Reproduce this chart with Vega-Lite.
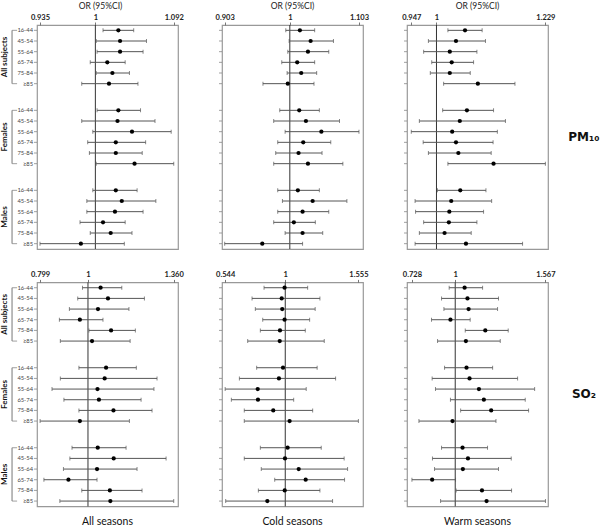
{
"$schema":"https://vega.github.io/schema/vega-lite/v6.json",
"padding":0,
"background":"white",
"bounds":"flush",
"columns":3,
"spacing":{"row":33.4,"column":44},
"config":{"view":{"stroke":null},"font":"Lato","axis":{"grid":false,"domain":false,"tickColor":"#777","tickSize":3,"labelFont":"Lato"},"title":{"font":"Lato","fontWeight":"normal","color":"#222"},"text":{"font":"Lato"}},
"datasets":{"or":[
{"pollutant":"PM10","season":"All seasons","group":"All subjects","age":"16-44","OR":1.027,"lower":1.009,"upper":1.045},
{"pollutant":"PM10","season":"All seasons","group":"All subjects","age":"45-54","OR":1.029,"lower":1.001,"upper":1.060},
{"pollutant":"PM10","season":"All seasons","group":"All subjects","age":"55-64","OR":1.029,"lower":1.002,"upper":1.056},
{"pollutant":"PM10","season":"All seasons","group":"All subjects","age":"65-74","OR":1.014,"lower":0.994,"upper":1.035},
{"pollutant":"PM10","season":"All seasons","group":"All subjects","age":"75-84","OR":1.020,"lower":1.001,"upper":1.040},
{"pollutant":"PM10","season":"All seasons","group":"All subjects","age":"≥85","OR":1.016,"lower":0.984,"upper":1.050},
{"pollutant":"PM10","season":"All seasons","group":"Females","age":"16-44","OR":1.027,"lower":1.002,"upper":1.053},
{"pollutant":"PM10","season":"All seasons","group":"Females","age":"45-54","OR":1.026,"lower":0.984,"upper":1.070},
{"pollutant":"PM10","season":"All seasons","group":"Females","age":"55-64","OR":1.043,"lower":0.997,"upper":1.089},
{"pollutant":"PM10","season":"All seasons","group":"Females","age":"65-74","OR":1.024,"lower":0.991,"upper":1.059},
{"pollutant":"PM10","season":"All seasons","group":"Females","age":"75-84","OR":1.024,"lower":0.993,"upper":1.055},
{"pollutant":"PM10","season":"All seasons","group":"Females","age":"≥85","OR":1.046,"lower":1.001,"upper":1.092},
{"pollutant":"PM10","season":"All seasons","group":"Males","age":"16-44","OR":1.024,"lower":0.997,"upper":1.049},
{"pollutant":"PM10","season":"All seasons","group":"Males","age":"45-54","OR":1.031,"lower":0.990,"upper":1.071},
{"pollutant":"PM10","season":"All seasons","group":"Males","age":"55-64","OR":1.023,"lower":0.990,"upper":1.056},
{"pollutant":"PM10","season":"All seasons","group":"Males","age":"65-74","OR":1.009,"lower":0.982,"upper":1.035},
{"pollutant":"PM10","season":"All seasons","group":"Males","age":"75-84","OR":1.018,"lower":0.994,"upper":1.043},
{"pollutant":"PM10","season":"All seasons","group":"Males","age":"≥85","OR":0.983,"lower":0.935,"upper":1.034},
{"pollutant":"PM10","season":"Cold seasons","group":"All subjects","age":"16-44","OR":1.015,"lower":0.994,"upper":1.037},
{"pollutant":"PM10","season":"Cold seasons","group":"All subjects","age":"45-54","OR":1.031,"lower":0.999,"upper":1.065},
{"pollutant":"PM10","season":"Cold seasons","group":"All subjects","age":"55-64","OR":1.027,"lower":0.997,"upper":1.058},
{"pollutant":"PM10","season":"Cold seasons","group":"All subjects","age":"65-74","OR":1.011,"lower":0.988,"upper":1.037},
{"pollutant":"PM10","season":"Cold seasons","group":"All subjects","age":"75-84","OR":1.017,"lower":0.996,"upper":1.040},
{"pollutant":"PM10","season":"Cold seasons","group":"All subjects","age":"≥85","OR":0.997,"lower":0.960,"upper":1.036},
{"pollutant":"PM10","season":"Cold seasons","group":"Females","age":"16-44","OR":1.014,"lower":0.985,"upper":1.044},
{"pollutant":"PM10","season":"Cold seasons","group":"Females","age":"45-54","OR":1.024,"lower":0.976,"upper":1.074},
{"pollutant":"PM10","season":"Cold seasons","group":"Females","age":"55-64","OR":1.047,"lower":0.993,"upper":1.103},
{"pollutant":"PM10","season":"Cold seasons","group":"Females","age":"65-74","OR":1.020,"lower":0.982,"upper":1.061},
{"pollutant":"PM10","season":"Cold seasons","group":"Females","age":"75-84","OR":1.013,"lower":0.979,"upper":1.048},
{"pollutant":"PM10","season":"Cold seasons","group":"Females","age":"≥85","OR":1.027,"lower":0.976,"upper":1.079},
{"pollutant":"PM10","season":"Cold seasons","group":"Males","age":"16-44","OR":1.012,"lower":0.982,"upper":1.044},
{"pollutant":"PM10","season":"Cold seasons","group":"Males","age":"45-54","OR":1.034,"lower":0.989,"upper":1.085},
{"pollutant":"PM10","season":"Cold seasons","group":"Males","age":"55-64","OR":1.019,"lower":0.982,"upper":1.058},
{"pollutant":"PM10","season":"Cold seasons","group":"Males","age":"65-74","OR":1.006,"lower":0.976,"upper":1.038},
{"pollutant":"PM10","season":"Cold seasons","group":"Males","age":"75-84","OR":1.019,"lower":0.993,"upper":1.049},
{"pollutant":"PM10","season":"Cold seasons","group":"Males","age":"≥85","OR":0.959,"lower":0.903,"upper":1.019},
{"pollutant":"PM10","season":"Warm seasons","group":"All subjects","age":"16-44","OR":1.060,"lower":1.024,"upper":1.096},
{"pollutant":"PM10","season":"Warm seasons","group":"All subjects","age":"45-54","OR":1.041,"lower":0.983,"upper":1.103},
{"pollutant":"PM10","season":"Warm seasons","group":"All subjects","age":"55-64","OR":1.028,"lower":0.973,"upper":1.085},
{"pollutant":"PM10","season":"Warm seasons","group":"All subjects","age":"65-74","OR":1.032,"lower":0.990,"upper":1.078},
{"pollutant":"PM10","season":"Warm seasons","group":"All subjects","age":"75-84","OR":1.028,"lower":0.987,"upper":1.071},
{"pollutant":"PM10","season":"Warm seasons","group":"All subjects","age":"≥85","OR":1.087,"lower":1.015,"upper":1.165},
{"pollutant":"PM10","season":"Warm seasons","group":"Females","age":"16-44","OR":1.064,"lower":1.013,"upper":1.120},
{"pollutant":"PM10","season":"Warm seasons","group":"Females","age":"45-54","OR":1.049,"lower":0.964,"upper":1.145},
{"pollutant":"PM10","season":"Warm seasons","group":"Females","age":"55-64","OR":1.033,"lower":0.947,"upper":1.128},
{"pollutant":"PM10","season":"Warm seasons","group":"Females","age":"65-74","OR":1.041,"lower":0.972,"upper":1.119},
{"pollutant":"PM10","season":"Warm seasons","group":"Females","age":"75-84","OR":1.046,"lower":0.983,"upper":1.115},
{"pollutant":"PM10","season":"Warm seasons","group":"Females","age":"≥85","OR":1.120,"lower":1.024,"upper":1.229},
{"pollutant":"PM10","season":"Warm seasons","group":"Males","age":"16-44","OR":1.050,"lower":1.002,"upper":1.104},
{"pollutant":"PM10","season":"Warm seasons","group":"Males","age":"45-54","OR":1.031,"lower":0.955,"upper":1.116},
{"pollutant":"PM10","season":"Warm seasons","group":"Males","age":"55-64","OR":1.027,"lower":0.956,"upper":1.099},
{"pollutant":"PM10","season":"Warm seasons","group":"Males","age":"65-74","OR":1.026,"lower":0.973,"upper":1.085},
{"pollutant":"PM10","season":"Warm seasons","group":"Males","age":"75-84","OR":1.017,"lower":0.964,"upper":1.073},
{"pollutant":"PM10","season":"Warm seasons","group":"Males","age":"≥85","OR":1.062,"lower":0.955,"upper":1.181},
{"pollutant":"SO2","season":"All seasons","group":"All subjects","age":"16-44","OR":1.053,"lower":0.977,"upper":1.142},
{"pollutant":"SO2","season":"All seasons","group":"All subjects","age":"45-54","OR":1.084,"lower":0.957,"upper":1.237},
{"pollutant":"SO2","season":"All seasons","group":"All subjects","age":"55-64","OR":1.042,"lower":0.922,"upper":1.172},
{"pollutant":"SO2","season":"All seasons","group":"All subjects","age":"65-74","OR":0.966,"lower":0.880,"upper":1.063},
{"pollutant":"SO2","season":"All seasons","group":"All subjects","age":"75-84","OR":1.097,"lower":1.004,"upper":1.199},
{"pollutant":"SO2","season":"All seasons","group":"All subjects","age":"≥85","OR":1.017,"lower":0.884,"upper":1.177},
{"pollutant":"SO2","season":"All seasons","group":"Females","age":"16-44","OR":1.076,"lower":0.962,"upper":1.203},
{"pollutant":"SO2","season":"All seasons","group":"Females","age":"45-54","OR":1.070,"lower":0.884,"upper":1.290},
{"pollutant":"SO2","season":"All seasons","group":"Females","age":"55-64","OR":1.040,"lower":0.849,"upper":1.277},
{"pollutant":"SO2","season":"All seasons","group":"Females","age":"65-74","OR":1.046,"lower":0.899,"upper":1.223},
{"pollutant":"SO2","season":"All seasons","group":"Females","age":"75-84","OR":1.107,"lower":0.962,"upper":1.269},
{"pollutant":"SO2","season":"All seasons","group":"Females","age":"≥85","OR":0.966,"lower":0.799,"upper":1.174},
{"pollutant":"SO2","season":"All seasons","group":"Males","age":"16-44","OR":1.041,"lower":0.933,"upper":1.160},
{"pollutant":"SO2","season":"All seasons","group":"Males","age":"45-54","OR":1.108,"lower":0.924,"upper":1.328},
{"pollutant":"SO2","season":"All seasons","group":"Males","age":"55-64","OR":1.038,"lower":0.897,"upper":1.206},
{"pollutant":"SO2","season":"All seasons","group":"Males","age":"65-74","OR":0.918,"lower":0.815,"upper":1.038},
{"pollutant":"SO2","season":"All seasons","group":"Males","age":"75-84","OR":1.092,"lower":0.974,"upper":1.227},
{"pollutant":"SO2","season":"All seasons","group":"Males","age":"≥85","OR":1.094,"lower":0.882,"upper":1.360},
{"pollutant":"SO2","season":"Cold seasons","group":"All subjects","age":"16-44","OR":0.995,"lower":0.839,"upper":1.170},
{"pollutant":"SO2","season":"Cold seasons","group":"All subjects","age":"45-54","OR":0.973,"lower":0.748,"upper":1.263},
{"pollutant":"SO2","season":"Cold seasons","group":"All subjects","age":"55-64","OR":0.977,"lower":0.773,"upper":1.227},
{"pollutant":"SO2","season":"Cold seasons","group":"All subjects","age":"65-74","OR":0.995,"lower":0.829,"upper":1.185},
{"pollutant":"SO2","season":"Cold seasons","group":"All subjects","age":"75-84","OR":0.960,"lower":0.811,"upper":1.152},
{"pollutant":"SO2","season":"Cold seasons","group":"All subjects","age":"≥85","OR":0.958,"lower":0.715,"upper":1.296},
{"pollutant":"SO2","season":"Cold seasons","group":"Females","age":"16-44","OR":0.983,"lower":0.783,"upper":1.242},
{"pollutant":"SO2","season":"Cold seasons","group":"Females","age":"45-54","OR":0.952,"lower":0.652,"upper":1.382},
{"pollutant":"SO2","season":"Cold seasons","group":"Females","age":"55-64","OR":0.791,"lower":0.544,"upper":1.159},
{"pollutant":"SO2","season":"Cold seasons","group":"Females","age":"65-74","OR":0.793,"lower":0.591,"upper":1.064},
{"pollutant":"SO2","season":"Cold seasons","group":"Females","age":"75-84","OR":0.909,"lower":0.689,"upper":1.208},
{"pollutant":"SO2","season":"Cold seasons","group":"Females","age":"≥85","OR":1.033,"lower":0.689,"upper":1.555},
{"pollutant":"SO2","season":"Cold seasons","group":"Males","age":"16-44","OR":1.018,"lower":0.811,"upper":1.273},
{"pollutant":"SO2","season":"Cold seasons","group":"Males","age":"45-54","OR":0.998,"lower":0.689,"upper":1.447},
{"pollutant":"SO2","season":"Cold seasons","group":"Males","age":"55-64","OR":1.102,"lower":0.818,"upper":1.473},
{"pollutant":"SO2","season":"Cold seasons","group":"Males","age":"65-74","OR":1.155,"lower":0.920,"upper":1.450},
{"pollutant":"SO2","season":"Cold seasons","group":"Males","age":"75-84","OR":0.996,"lower":0.796,"upper":1.263},
{"pollutant":"SO2","season":"Cold seasons","group":"Males","age":"≥85","OR":0.864,"lower":0.548,"upper":1.359},
{"pollutant":"SO2","season":"Warm seasons","group":"All subjects","age":"16-44","OR":1.059,"lower":0.962,"upper":1.172},
{"pollutant":"SO2","season":"Warm seasons","group":"All subjects","age":"45-54","OR":1.077,"lower":0.914,"upper":1.272},
{"pollutant":"SO2","season":"Warm seasons","group":"All subjects","age":"55-64","OR":1.084,"lower":0.929,"upper":1.266},
{"pollutant":"SO2","season":"Warm seasons","group":"All subjects","age":"65-74","OR":0.970,"lower":0.851,"upper":1.094},
{"pollutant":"SO2","season":"Warm seasons","group":"All subjects","age":"75-84","OR":1.189,"lower":1.063,"upper":1.333},
{"pollutant":"SO2","season":"Warm seasons","group":"All subjects","age":"≥85","OR":1.067,"lower":0.889,"upper":1.283},
{"pollutant":"SO2","season":"Warm seasons","group":"Females","age":"16-44","OR":1.071,"lower":0.933,"upper":1.235},
{"pollutant":"SO2","season":"Warm seasons","group":"Females","age":"45-54","OR":1.090,"lower":0.855,"upper":1.392},
{"pollutant":"SO2","season":"Warm seasons","group":"Females","age":"55-64","OR":1.149,"lower":0.876,"upper":1.499},
{"pollutant":"SO2","season":"Warm seasons","group":"Females","age":"65-74","OR":1.180,"lower":0.970,"upper":1.440},
{"pollutant":"SO2","season":"Warm seasons","group":"Females","age":"75-84","OR":1.226,"lower":1.034,"upper":1.461},
{"pollutant":"SO2","season":"Warm seasons","group":"Females","age":"≥85","OR":0.983,"lower":0.772,"upper":1.256},
{"pollutant":"SO2","season":"Warm seasons","group":"Males","age":"16-44","OR":1.046,"lower":0.914,"upper":1.203},
{"pollutant":"SO2","season":"Warm seasons","group":"Males","age":"45-54","OR":1.080,"lower":0.857,"upper":1.352},
{"pollutant":"SO2","season":"Warm seasons","group":"Males","age":"55-64","OR":1.048,"lower":0.870,"upper":1.272},
{"pollutant":"SO2","season":"Warm seasons","group":"Males","age":"65-74","OR":0.855,"lower":0.728,"upper":1.002},
{"pollutant":"SO2","season":"Warm seasons","group":"Males","age":"75-84","OR":1.168,"lower":1.006,"upper":1.354},
{"pollutant":"SO2","season":"Warm seasons","group":"Males","age":"≥85","OR":1.197,"lower":0.908,"upper":1.567}
]},
"concat":[
  {"width":141,"height":224,"view":{"stroke":"#999","strokeWidth":1.2},
   "title":{"text":"OR (95%CI)","orient":"top","anchor":"middle","frame":"group","dx":-7,"fontSize":8.5,"offset":3},
   "data":{"name":"or"},
   "transform":[{"filter":"datum.pollutant=='PM10' && datum.season=='All seasons'"},{"calculate":"substring(datum.group,0,1)+datum.age","as":"key"}],
   "resolve":{"scale":{"x":"independent"},"axis":{"x":"independent"}},
   "layer":[
    {"layer":[
     {"transform":[{"filter":"datum.age=='16-44'"},{"calculate":"substring(datum.group,0,1)","as":"g"},{"calculate":"datum.g+'16-44'","as":"first"},{"calculate":"datum.g+'s3'","as":"mid"},{"calculate":"datum.g+'≥85'","as":"last"}],
      "layer":[
       {"mark":{"type":"rule","color":"#777","strokeWidth":1},"encoding":{"x":{"datum":-0.177,"type":"quantitative","scale":{"domain":[0,1]},"axis":null},"y":{"field":"first","type":"nominal","axis":null},"y2":{"field":"last"}}},
       {"transform":[{"fold":["first","last"],"as":["end","endkey"]}],"mark":{"type":"tick","orient":"horizontal","color":"#777","size":5,"thickness":1},"encoding":{"x":{"datum":-0.159,"type":"quantitative"},"y":{"field":"endkey","type":"nominal","axis":null}}},
       {"mark":{"type":"text","angle":270,"fontWeight":"bold","fontSize":8,"color":"#111","align":"center","baseline":"middle"},"encoding":{"x":{"datum":-0.225,"type":"quantitative"},"y":{"field":"mid","type":"nominal","axis":null},"text":{"field":"group"}}}
      ]},
     {"mark":{"type":"tick","orient":"horizontal","color":"#777","size":3,"thickness":1},"encoding":{"x":{"datum":-0.0106,"type":"quantitative"},"y":{"field":"key","type":"nominal","axis":null}}},
     {"mark":{"type":"text","align":"right","baseline":"middle","fontSize":5.8,"color":"#444"},"encoding":{"x":{"datum":-0.0284,"type":"quantitative"},"y":{"field":"key","type":"nominal","axis":null},"text":{"field":"age"}}}
    ]},
    {"layer":[
     {"transform":[{"aggregate":[{"op":"count","as":"n"}]}],"mark":{"type":"rule","color":"#333","strokeWidth":1},
      "encoding":{"x":{"datum":1,"type":"quantitative","title":null,"scale":{"domain":[0.9315,1.097],"nice":false,"zero":false},"axis":{"orient":"top","values":[0.935,1,1.092],"labelExpr":"datum.value==1?'1':format(datum.value,'.3f')","labelFontSize":7.5,"labelFontWeight":"bold","labelColor":"#222","labelPadding":1,"labelFlush":false,"labelOverlap":false}}}},
     {"encoding":{"y":{"field":"key","type":"nominal","title":null,"scale":{"type":"point","domain":["A16-44","As1","A45-54","As2","A55-64","As3","A65-74","As4","A75-84","As5","A≥85","g1","g2","g3","g4","F16-44","Fs1","F45-54","Fs2","F55-64","Fs3","F65-74","Fs4","F75-84","Fs5","F≥85","g5","g6","g7","g8","M16-44","Ms1","M45-54","Ms2","M55-64","Ms3","M65-74","Ms4","M75-84","Ms5","M≥85"],"padding":1.85},"axis":null}},
      "layer":[
       {"mark":{"type":"rule","color":"#555","strokeWidth":1},"encoding":{"x":{"field":"lower","type":"quantitative","title":null},"x2":{"field":"upper"}}},
       {"mark":{"type":"tick","color":"#555","size":4,"thickness":1},"encoding":{"x":{"field":"lower","type":"quantitative","title":null}}},
       {"mark":{"type":"tick","color":"#555","size":4,"thickness":1},"encoding":{"x":{"field":"upper","type":"quantitative","title":null}}},
       {"mark":{"type":"circle","color":"#000","size":18,"opacity":1},"encoding":{"x":{"field":"OR","type":"quantitative","title":null}}}
      ]}
    ]}
   ]},
  {"width":141,"height":224,"view":{"stroke":"#999","strokeWidth":1.2},
   "title":{"text":"OR (95%CI)","orient":"top","anchor":"middle","frame":"group","fontSize":8.5,"offset":3},
   "data":{"name":"or"},
   "transform":[{"filter":"datum.pollutant=='PM10' && datum.season=='Cold seasons'"},{"calculate":"substring(datum.group,0,1)+datum.age","as":"key"}],
   "resolve":{"scale":{"x":"independent"},"axis":{"x":"independent"}},
   "layer":[
    {"mark":{"type":"tick","orient":"horizontal","color":"#777","size":3,"thickness":1},"encoding":{"x":{"datum":-0.0106,"type":"quantitative","scale":{"domain":[0,1]},"axis":null},"y":{"field":"key","type":"nominal","axis":null}}},
    {"layer":[
     {"transform":[{"aggregate":[{"op":"count","as":"n"}]}],"mark":{"type":"rule","color":"#333","strokeWidth":1},
      "encoding":{"x":{"datum":1,"type":"quantitative","title":null,"scale":{"domain":[0.899,1.109],"nice":false,"zero":false},"axis":{"orient":"top","values":[0.903,1,1.103],"labelExpr":"datum.value==1?'1':format(datum.value,'.3f')","labelFontSize":7.5,"labelFontWeight":"bold","labelColor":"#222","labelPadding":1,"labelFlush":false,"labelOverlap":false}}}},
     {"encoding":{"y":{"field":"key","type":"nominal","title":null,"scale":{"type":"point","domain":["A16-44","As1","A45-54","As2","A55-64","As3","A65-74","As4","A75-84","As5","A≥85","g1","g2","g3","g4","F16-44","Fs1","F45-54","Fs2","F55-64","Fs3","F65-74","Fs4","F75-84","Fs5","F≥85","g5","g6","g7","g8","M16-44","Ms1","M45-54","Ms2","M55-64","Ms3","M65-74","Ms4","M75-84","Ms5","M≥85"],"padding":1.85},"axis":null}},
      "layer":[
       {"mark":{"type":"rule","color":"#555","strokeWidth":1},"encoding":{"x":{"field":"lower","type":"quantitative","title":null},"x2":{"field":"upper"}}},
       {"mark":{"type":"tick","color":"#555","size":4,"thickness":1},"encoding":{"x":{"field":"lower","type":"quantitative","title":null}}},
       {"mark":{"type":"tick","color":"#555","size":4,"thickness":1},"encoding":{"x":{"field":"upper","type":"quantitative","title":null}}},
       {"mark":{"type":"circle","color":"#000","size":18,"opacity":1},"encoding":{"x":{"field":"OR","type":"quantitative","title":null}}}
      ]}
    ]}
   ]},
  {"width":141,"height":224,"view":{"stroke":"#999","strokeWidth":1.2},
   "title":{"text":"OR (95%CI)","orient":"top","anchor":"middle","frame":"group","fontSize":8.5,"offset":3},
   "data":{"name":"or"},
   "transform":[{"filter":"datum.pollutant=='PM10' && datum.season=='Warm seasons'"},{"calculate":"substring(datum.group,0,1)+datum.age","as":"key"}],
   "resolve":{"scale":{"x":"independent"},"axis":{"x":"independent"}},
   "layer":[
    {"layer":[
     {"mark":{"type":"tick","orient":"horizontal","color":"#777","size":3,"thickness":1},"encoding":{"x":{"datum":-0.0106,"type":"quantitative","scale":{"domain":[0,1]},"axis":null},"y":{"field":"key","type":"nominal","axis":null}}},
     {"data":{"values":[{"label":"PM₁₀"}]},"mark":{"type":"text","font":"DejaVu Sans","fontWeight":"bold","fontSize":12,"color":"#111","align":"center","baseline":"middle"},"encoding":{"x":{"datum":1.255,"type":"quantitative"},"text":{"field":"label"}}}
    ]},
    {"layer":[
     {"transform":[{"aggregate":[{"op":"count","as":"n"}]}],"mark":{"type":"rule","color":"#333","strokeWidth":1},
      "encoding":{"x":{"datum":1,"type":"quantitative","title":null,"scale":{"domain":[0.938,1.2345],"nice":false,"zero":false},"axis":{"orient":"top","values":[0.947,1,1.229],"labelExpr":"datum.value==1?'1':format(datum.value,'.3f')","labelFontSize":7.5,"labelFontWeight":"bold","labelColor":"#222","labelPadding":1,"labelFlush":false,"labelOverlap":false}}}},
     {"encoding":{"y":{"field":"key","type":"nominal","title":null,"scale":{"type":"point","domain":["A16-44","As1","A45-54","As2","A55-64","As3","A65-74","As4","A75-84","As5","A≥85","g1","g2","g3","g4","F16-44","Fs1","F45-54","Fs2","F55-64","Fs3","F65-74","Fs4","F75-84","Fs5","F≥85","g5","g6","g7","g8","M16-44","Ms1","M45-54","Ms2","M55-64","Ms3","M65-74","Ms4","M75-84","Ms5","M≥85"],"padding":1.85},"axis":null}},
      "layer":[
       {"mark":{"type":"rule","color":"#555","strokeWidth":1},"encoding":{"x":{"field":"lower","type":"quantitative","title":null},"x2":{"field":"upper"}}},
       {"mark":{"type":"tick","color":"#555","size":4,"thickness":1},"encoding":{"x":{"field":"lower","type":"quantitative","title":null}}},
       {"mark":{"type":"tick","color":"#555","size":4,"thickness":1},"encoding":{"x":{"field":"upper","type":"quantitative","title":null}}},
       {"mark":{"type":"circle","color":"#000","size":18,"opacity":1},"encoding":{"x":{"field":"OR","type":"quantitative","title":null}}}
      ]}
    ]}
   ]},
  {"width":141,"height":224,"view":{"stroke":"#999","strokeWidth":1.2},
   "title":{"text":"All seasons","orient":"bottom","anchor":"middle","frame":"group","fontSize":10.5,"offset":10,"color":"#111"},
   "data":{"name":"or"},
   "transform":[{"filter":"datum.pollutant=='SO2' && datum.season=='All seasons'"},{"calculate":"substring(datum.group,0,1)+datum.age","as":"key"}],
   "resolve":{"scale":{"x":"independent"},"axis":{"x":"independent"}},
   "layer":[
    {"layer":[
     {"transform":[{"filter":"datum.age=='16-44'"},{"calculate":"substring(datum.group,0,1)","as":"g"},{"calculate":"datum.g+'16-44'","as":"first"},{"calculate":"datum.g+'s3'","as":"mid"},{"calculate":"datum.g+'≥85'","as":"last"}],
      "layer":[
       {"mark":{"type":"rule","color":"#777","strokeWidth":1},"encoding":{"x":{"datum":-0.177,"type":"quantitative","scale":{"domain":[0,1]},"axis":null},"y":{"field":"first","type":"nominal","axis":null},"y2":{"field":"last"}}},
       {"transform":[{"fold":["first","last"],"as":["end","endkey"]}],"mark":{"type":"tick","orient":"horizontal","color":"#777","size":5,"thickness":1},"encoding":{"x":{"datum":-0.159,"type":"quantitative"},"y":{"field":"endkey","type":"nominal","axis":null}}},
       {"mark":{"type":"text","angle":270,"fontWeight":"bold","fontSize":8,"color":"#111","align":"center","baseline":"middle"},"encoding":{"x":{"datum":-0.225,"type":"quantitative"},"y":{"field":"mid","type":"nominal","axis":null},"text":{"field":"group"}}}
      ]},
     {"mark":{"type":"tick","orient":"horizontal","color":"#777","size":3,"thickness":1},"encoding":{"x":{"datum":-0.0106,"type":"quantitative"},"y":{"field":"key","type":"nominal","axis":null}}},
     {"mark":{"type":"text","align":"right","baseline":"middle","fontSize":5.8,"color":"#444"},"encoding":{"x":{"datum":-0.0284,"type":"quantitative"},"y":{"field":"key","type":"nominal","axis":null},"text":{"field":"age"}}}
    ]},
    {"layer":[
     {"transform":[{"aggregate":[{"op":"count","as":"n"}]}],"mark":{"type":"rule","color":"#333","strokeWidth":1},
      "encoding":{"x":{"datum":1,"type":"quantitative","title":null,"scale":{"domain":[0.786,1.378],"nice":false,"zero":false},"axis":{"orient":"top","values":[0.799,1,1.36],"labelExpr":"datum.value==1?'1':format(datum.value,'.3f')","labelFontSize":7.5,"labelFontWeight":"bold","labelColor":"#222","labelPadding":1,"labelFlush":false,"labelOverlap":false}}}},
     {"encoding":{"y":{"field":"key","type":"nominal","title":null,"scale":{"type":"point","domain":["A16-44","As1","A45-54","As2","A55-64","As3","A65-74","As4","A75-84","As5","A≥85","g1","g2","g3","g4","F16-44","Fs1","F45-54","Fs2","F55-64","Fs3","F65-74","Fs4","F75-84","Fs5","F≥85","g5","g6","g7","g8","M16-44","Ms1","M45-54","Ms2","M55-64","Ms3","M65-74","Ms4","M75-84","Ms5","M≥85"],"padding":1.85},"axis":null}},
      "layer":[
       {"mark":{"type":"rule","color":"#555","strokeWidth":1},"encoding":{"x":{"field":"lower","type":"quantitative","title":null},"x2":{"field":"upper"}}},
       {"mark":{"type":"tick","color":"#555","size":4,"thickness":1},"encoding":{"x":{"field":"lower","type":"quantitative","title":null}}},
       {"mark":{"type":"tick","color":"#555","size":4,"thickness":1},"encoding":{"x":{"field":"upper","type":"quantitative","title":null}}},
       {"mark":{"type":"circle","color":"#000","size":18,"opacity":1},"encoding":{"x":{"field":"OR","type":"quantitative","title":null}}}
      ]}
    ]}
   ]},
  {"width":141,"height":224,"view":{"stroke":"#999","strokeWidth":1.2},
   "title":{"text":"Cold seasons","orient":"bottom","anchor":"middle","frame":"group","fontSize":10.5,"offset":10,"color":"#111"},
   "data":{"name":"or"},
   "transform":[{"filter":"datum.pollutant=='SO2' && datum.season=='Cold seasons'"},{"calculate":"substring(datum.group,0,1)+datum.age","as":"key"}],
   "resolve":{"scale":{"x":"independent"},"axis":{"x":"independent"}},
   "layer":[
    {"mark":{"type":"tick","orient":"horizontal","color":"#777","size":3,"thickness":1},"encoding":{"x":{"datum":-0.0106,"type":"quantitative","scale":{"domain":[0,1]},"axis":null},"y":{"field":"key","type":"nominal","axis":null}}},
    {"layer":[
     {"transform":[{"aggregate":[{"op":"count","as":"n"}]}],"mark":{"type":"rule","color":"#333","strokeWidth":1},
      "encoding":{"x":{"datum":1,"type":"quantitative","title":null,"scale":{"domain":[0.52,1.59],"nice":false,"zero":false},"axis":{"orient":"top","values":[0.544,1,1.555],"labelExpr":"datum.value==1?'1':format(datum.value,'.3f')","labelFontSize":7.5,"labelFontWeight":"bold","labelColor":"#222","labelPadding":1,"labelFlush":false,"labelOverlap":false}}}},
     {"encoding":{"y":{"field":"key","type":"nominal","title":null,"scale":{"type":"point","domain":["A16-44","As1","A45-54","As2","A55-64","As3","A65-74","As4","A75-84","As5","A≥85","g1","g2","g3","g4","F16-44","Fs1","F45-54","Fs2","F55-64","Fs3","F65-74","Fs4","F75-84","Fs5","F≥85","g5","g6","g7","g8","M16-44","Ms1","M45-54","Ms2","M55-64","Ms3","M65-74","Ms4","M75-84","Ms5","M≥85"],"padding":1.85},"axis":null}},
      "layer":[
       {"mark":{"type":"rule","color":"#555","strokeWidth":1},"encoding":{"x":{"field":"lower","type":"quantitative","title":null},"x2":{"field":"upper"}}},
       {"mark":{"type":"tick","color":"#555","size":4,"thickness":1},"encoding":{"x":{"field":"lower","type":"quantitative","title":null}}},
       {"mark":{"type":"tick","color":"#555","size":4,"thickness":1},"encoding":{"x":{"field":"upper","type":"quantitative","title":null}}},
       {"mark":{"type":"circle","color":"#000","size":18,"opacity":1},"encoding":{"x":{"field":"OR","type":"quantitative","title":null}}}
      ]}
    ]}
   ]},
  {"width":141,"height":224,"view":{"stroke":"#999","strokeWidth":1.2},
   "title":{"text":"Warm seasons","orient":"bottom","anchor":"middle","frame":"group","fontSize":10.5,"offset":10,"color":"#111"},
   "data":{"name":"or"},
   "transform":[{"filter":"datum.pollutant=='SO2' && datum.season=='Warm seasons'"},{"calculate":"substring(datum.group,0,1)+datum.age","as":"key"}],
   "resolve":{"scale":{"x":"independent"},"axis":{"x":"independent"}},
   "layer":[
    {"layer":[
     {"mark":{"type":"tick","orient":"horizontal","color":"#777","size":3,"thickness":1},"encoding":{"x":{"datum":-0.0106,"type":"quantitative","scale":{"domain":[0,1]},"axis":null},"y":{"field":"key","type":"nominal","axis":null}}},
     {"data":{"values":[{"label":"SO₂"}]},"mark":{"type":"text","font":"DejaVu Sans","fontWeight":"bold","fontSize":12,"color":"#111","align":"center","baseline":"middle"},"encoding":{"x":{"datum":1.255,"type":"quantitative"},"text":{"field":"label"}}}
    ]},
    {"layer":[
     {"transform":[{"aggregate":[{"op":"count","as":"n"}]}],"mark":{"type":"rule","color":"#333","strokeWidth":1},
      "encoding":{"x":{"datum":1,"type":"quantitative","title":null,"scale":{"domain":[0.697,1.583],"nice":false,"zero":false},"axis":{"orient":"top","values":[0.728,1,1.567],"labelExpr":"datum.value==1?'1':format(datum.value,'.3f')","labelFontSize":7.5,"labelFontWeight":"bold","labelColor":"#222","labelPadding":1,"labelFlush":false,"labelOverlap":false}}}},
     {"encoding":{"y":{"field":"key","type":"nominal","title":null,"scale":{"type":"point","domain":["A16-44","As1","A45-54","As2","A55-64","As3","A65-74","As4","A75-84","As5","A≥85","g1","g2","g3","g4","F16-44","Fs1","F45-54","Fs2","F55-64","Fs3","F65-74","Fs4","F75-84","Fs5","F≥85","g5","g6","g7","g8","M16-44","Ms1","M45-54","Ms2","M55-64","Ms3","M65-74","Ms4","M75-84","Ms5","M≥85"],"padding":1.85},"axis":null}},
      "layer":[
       {"mark":{"type":"rule","color":"#555","strokeWidth":1},"encoding":{"x":{"field":"lower","type":"quantitative","title":null},"x2":{"field":"upper"}}},
       {"mark":{"type":"tick","color":"#555","size":4,"thickness":1},"encoding":{"x":{"field":"lower","type":"quantitative","title":null}}},
       {"mark":{"type":"tick","color":"#555","size":4,"thickness":1},"encoding":{"x":{"field":"upper","type":"quantitative","title":null}}},
       {"mark":{"type":"circle","color":"#000","size":18,"opacity":1},"encoding":{"x":{"field":"OR","type":"quantitative","title":null}}}
      ]}
    ]}
   ]}
]
}
